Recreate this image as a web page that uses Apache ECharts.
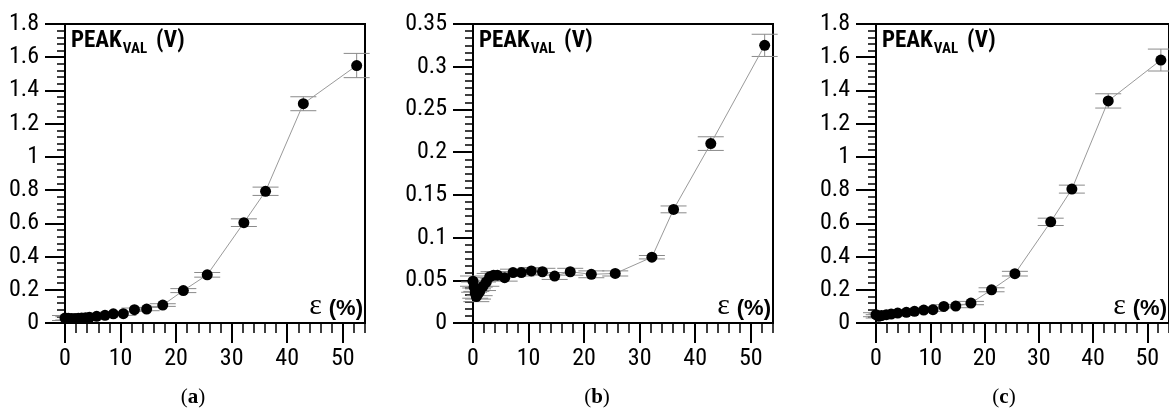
<!DOCTYPE html>
<html><head><meta charset="utf-8">
<script src="https://cdn.jsdelivr.net/npm/echarts@6/dist/echarts.min.js"></script>
<style>html,body{margin:0;padding:0;background:#fff}#c{width:1169px;height:410px}</style>
</head><body><div id="c"></div>
<script>
// ---- data ----
const aX = [0, 0.6, 1.2, 1.8, 2.4, 3.0, 3.7, 4.4, 5.7, 7.2, 8.7, 10.5, 12.5, 14.7, 17.6, 21.3, 25.6, 32.2, 36.1, 42.9, 52.5];
const aY = [0.03, 0.028, 0.027, 0.027, 0.028, 0.03, 0.032, 0.034, 0.040, 0.046, 0.055, 0.056, 0.080, 0.084, 0.108, 0.195, 0.29, 0.604, 0.793, 1.32, 1.55];
const aErr = [0.015, 0.01, 0.01, 0.01, 0.01, 0.01, 0.01, 0.01, 0.01, 0.01, 0.01, 0.01, 0.01, 0.01, 0.008, 0.012, 0.014, 0.023, 0.025, 0.042, 0.073];

const bX = [0, 0.2, 0.4, 0.6, 0.9, 1.2, 1.8, 2.4, 3.0, 3.7, 4.4, 5.7, 7.2, 8.7, 10.5, 12.5, 14.7, 17.5, 21.3, 25.6, 32.2, 36.1, 42.8, 52.5];
const bY = [0.049, 0.042, 0.035, 0.031, 0.034, 0.037, 0.043, 0.048, 0.054, 0.056, 0.056, 0.053, 0.059, 0.059, 0.061, 0.060, 0.055, 0.060, 0.057, 0.058, 0.077, 0.133, 0.210, 0.325];
const bErr = [0.006, 0.006, 0.006, 0.006, 0.006, 0.005, 0.005, 0.005, 0.004, 0.004, 0.004, 0.004, 0.004, 0.004, 0.004, 0.004, 0.004, 0.004, 0.004, 0.003, 0.002, 0.004, 0.008, 0.013];

const cX = [0, 0.5, 1.0, 1.9, 2.8, 4.0, 5.6, 7.1, 8.8, 10.5, 12.5, 14.7, 17.5, 21.3, 25.6, 32.2, 36.1, 42.8, 52.5];
const cY = [0.05, 0.04, 0.045, 0.05, 0.054, 0.06, 0.064, 0.07, 0.078, 0.08, 0.1, 0.102, 0.12, 0.2, 0.297, 0.609, 0.806, 1.337, 1.583];
const cErr = [0.012, 0.01, 0.01, 0.01, 0.01, 0.01, 0.01, 0.01, 0.01, 0.01, 0.01, 0.01, 0.01, 0.012, 0.014, 0.022, 0.024, 0.043, 0.066];

const xTicks = [0, 10, 20, 30, 40, 50];
const panelLetters = ['a', 'b', 'c'];
const yMax = [1.8, 0.35, 1.8];
const yStep = [0.2, 0.05, 0.2];
const yMinorSplit = [5, 6, 5];

// ---- layout ----
const SANS = "'Roboto Condensed', 'DejaVu Sans Condensed', sans-serif";
const WIDE = "'Liberation Sans', sans-serif";
const SERIF = "'Liberation Serif', serif";
const grids = [
  {left: 65, right: 804, top: 24, bottom: 87},
  {left: 473, right: 396, top: 24, bottom: 87},
  {left: 876, right: -7, top: 24, bottom: 87}
];
const captionX = [193, 597, 1004];
const series = [];
const xAxes = [], yAxes = [];
const datasets = [[aX, aY, aErr], [bX, bY, bErr], [cX, cY, cErr]];

const cvs = document.createElement('canvas').getContext('2d');
function tw(t, font) { cvs.font = font; return cvs.measureText(t).width; }
// y of the 'middle' line for a given alphabetic baseline
function mid(baseline, size) { return baseline - 0.34 * size; }

function errRender(params, api) {
  const x = api.value(0), y = api.value(1), e = api.value(2);
  const t = api.coord([x, y + e]), b = api.coord([x, y - e]);
  const h = 13, st = {stroke: '#8a8a8a', lineWidth: 1};
  return {type: 'group', children: [
    {type: 'line', shape: {x1: t[0], y1: t[1], x2: b[0], y2: b[1]}, style: st},
    {type: 'line', shape: {x1: t[0] - h, y1: t[1], x2: t[0] + h, y2: t[1]}, style: st},
    {type: 'line', shape: {x1: b[0] - h, y1: b[1], x2: b[0] + h, y2: b[1]}, style: st}
  ]};
}

const graphics = [];
for (let i = 0; i < 3; i++) {
  const [X, Y, E] = datasets[i];
  xAxes.push({
    gridIndex: i, type: 'value', position: 'bottom', min: 0, max: 54, interval: 10,
    axisLine: {show: true, onZero: false, lineStyle: {color: '#000', width: 2}},
    axisTick: {show: true, length: 20, customValues: xTicks, lineStyle: {color: '#000', width: 2}},
    axisLabel: {margin: 24, fontSize: 24, color: '#000', fontFamily: SANS, showMaxLabel: false,
      formatter: v => (v % 10 === 0 ? String(v) : '')},
    splitLine: {show: false}
  });
  xAxes.push({
    gridIndex: i, type: 'value', position: 'bottom', min: 0, max: 54, interval: 2,
    axisLine: {show: false},
    axisTick: {show: true, length: 10, lineStyle: {color: '#000', width: 1.5}},
    axisLabel: {show: false}, splitLine: {show: false}
  });
  yAxes.push({
    gridIndex: i, type: 'value', min: 0, max: yMax[i], interval: yStep[i],
    axisLine: {show: true, onZero: false, lineStyle: {color: '#000', width: 2}},
    axisTick: {show: true, length: 20, lineStyle: {color: '#000', width: 2}},
    minorTick: {show: true, splitNumber: yMinorSplit[i], length: 8, lineStyle: {color: '#000', width: 1.5}},
    axisLabel: {margin: 26, fontSize: 24, color: '#000', fontFamily: SANS},
    splitLine: {show: false}
  });
  const pts = X.map((x, k) => [x, Y[k], E[k]]);
  series.push({
    type: 'custom', xAxisIndex: 2 * i, yAxisIndex: i, renderItem: errRender,
    data: pts, z: 2, silent: true
  });
  series.push({
    type: 'line', xAxisIndex: 2 * i, yAxisIndex: i, data: pts.map(p => [p[0], p[1]]),
    symbol: 'circle', symbolSize: 11, showSymbol: true,
    itemStyle: {color: '#000'}, lineStyle: {color: '#9a9a9a', width: 1}, z: 3, animation: false
  });

  // in-plot labels
  const g = grids[i];
  const gx = g.left, gr = 1169 - g.right;
  const bFont = 'bold 23px ' + SANS, sFont = 'bold 15px ' + SANS;
  let x0 = gx + 6;
  graphics.push({type: 'text', x: x0, y: mid(49, 23), style: {text: 'PEAK', font: bFont, fill: '#000', verticalAlign: 'middle'}});
  x0 += tw('PEAK', bFont) + 1;
  graphics.push({type: 'text', x: x0, y: mid(54, 15), style: {text: 'VAL', font: sFont, fill: '#000', verticalAlign: 'middle'}});
  x0 += tw('VAL', sFont) + 9;
  graphics.push({type: 'text', x: x0, y: mid(49, 23), style: {text: '(V)', font: bFont, fill: '#000', verticalAlign: 'middle'}});

  const pFont = 'bold 22px ' + WIDE, eFont = '30px ' + SERIF;
  const right = Math.min(gr, 1169) - 2;
  const wP = tw('(%)', pFont);
  graphics.push({type: 'text', x: right - wP, y: mid(316, 22), style: {text: '(%)', font: pFont, fill: '#000', verticalAlign: 'middle'}});
  graphics.push({type: 'text', x: right - wP - 7 - tw('ε', eFont), y: mid(316.5, 30), style: {text: 'ε', font: eFont, fill: '#000', verticalAlign: 'middle'}});

  graphics.push({type: 'text', x: captionX[i], y: mid(405, 21), style: {
    text: '({b|' + panelLetters[i] + '})', font: '21px ' + SERIF, fill: '#000', align: 'center', verticalAlign: 'middle',
    rich: {b: {font: 'bold 21px ' + SERIF, fill: '#000'}}
  }});
}

const chart = echarts.init(document.getElementById('c'), null, {renderer: 'canvas'});
chart.setOption({
  animation: false,
  backgroundColor: '#fff',
  grid: grids.map(g => Object.assign({show: true, borderColor: '#000', borderWidth: 2, backgroundColor: 'transparent'}, g)),
  xAxis: xAxes, yAxis: yAxes, series: series, graphic: graphics
});
</script></body></html>
